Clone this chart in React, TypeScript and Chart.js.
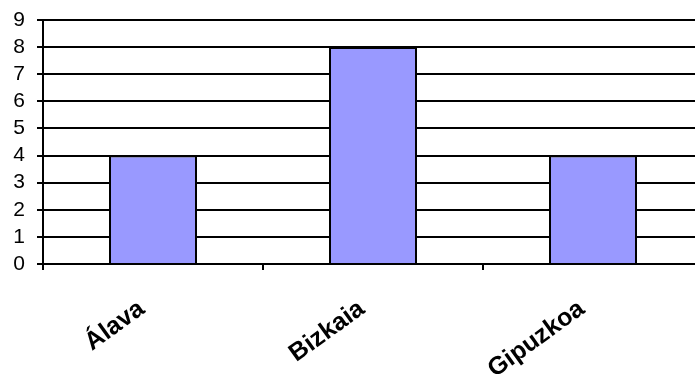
import React, { useEffect, useRef } from "react";
import { Chart, registerables } from "chart.js";

Chart.register(...registerables);

const categories = ["Álava", "Bizkaia", "Gipuzkoa"];
const values = [4, 8, 4];
const yMin = 0;
const yMax = 9;

export default function App() {
  const ref = useRef<HTMLCanvasElement | null>(null);
  useEffect(() => {
    if (!ref.current) return;
    const chart = new Chart(ref.current, {
      type: "bar",
      data: {
        labels: categories,
        datasets: [
          {
            data: values,
            backgroundColor: "#9999FF",
            borderColor: "#000000",
            borderWidth: 2,
            barPercentage: 0.4,
            categoryPercentage: 1,
          },
        ],
      },
      options: {
        responsive: false,
        animation: false,
        devicePixelRatio: 1,
        layout: { padding: { top: 20, right: 7, left: 0, bottom: 0 } },
        plugins: { legend: { display: false }, tooltip: { enabled: false } },
        scales: {
          x: {
            offset: true,
            grid: {
              offset: true,
              drawOnChartArea: false,
              drawTicks: true,
              tickLength: 6,
              color: "#000",
              lineWidth: 2,
            },
            border: { display: true, color: "#000", width: 2 },
            ticks: {
              autoSkip: false,
              minRotation: 36,
              maxRotation: 36,
              labelOffset: -11,
              padding: 24,
              color: "#000",
              font: { family: "'Liberation Sans', Arial, sans-serif", size: 25, weight: "bold" },
            },
            afterFit: (axis: any) => {
              axis.height = 110;
              axis.paddingLeft = 0;
              axis.paddingRight = 0;
            },
          },
          y: {
            min: yMin,
            max: yMax,
            grid: {
              color: "#000",
              lineWidth: 2,
              tickLength: 6,
            },
            border: { display: true, color: "#000", width: 2 },
            ticks: {
              autoSkip: false,
              stepSize: 1,
              padding: 12,
              color: "#000",
              font: { family: "'Liberation Sans', Arial, sans-serif", size: 21 },
            },
            afterFit: (axis: any) => {
              axis.width = 43;
              axis.paddingTop = 0;
              axis.paddingBottom = 0;
            },
          },
        },
      },
    });
    return () => chart.destroy();
  }, []);
  return (
    <div style={{ position: "fixed", left: 0, top: 0, width: 695, height: 374, overflow: "hidden", background: "#fff" }}>
      <canvas ref={ref} width={710} height={374} style={{ display: "block" }} />
    </div>
  );
}
